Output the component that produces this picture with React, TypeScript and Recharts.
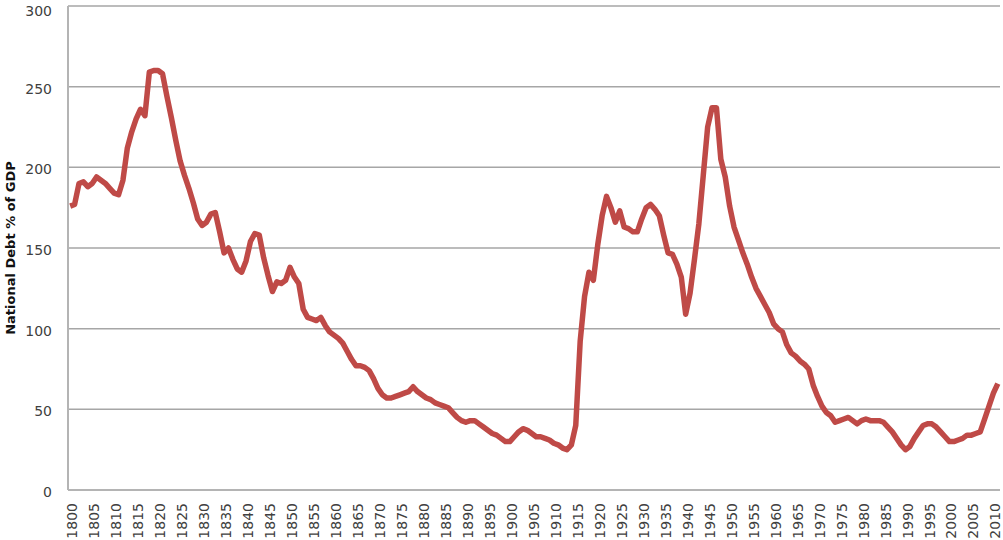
import React from "react"
import { LineChart, Line, XAxis, YAxis, CartesianGrid } from "recharts"

// Years 1800..2011, one value per year (national debt as % of GDP)
const START_YEAR = 1800
const debt = [
  // 1800-1809
  176, 177, 190, 191, 188, 190, 194, 192, 190, 187,
  // 1810-1819
  184, 183, 192, 212, 222, 230, 236, 232, 259, 260,
  // 1820-1829
  260, 258, 244, 231, 217, 204, 195, 187, 178, 168,
  // 1830-1839
  164, 166, 171, 172, 160, 147, 150, 143, 137, 135,
  // 1840-1849
  142, 154, 159, 158, 144, 133, 123, 129, 128, 130,
  // 1850-1859
  138, 132, 128, 112, 107, 106, 105, 107, 102, 98,
  // 1860-1869
  96, 94, 91, 86, 81, 77, 77, 76, 74, 69,
  // 1870-1879
  63, 59, 57, 57, 58, 59, 60, 61, 64, 61,
  // 1880-1889
  59, 57, 56, 54, 53, 52, 51, 48, 45, 43,
  // 1890-1899
  42, 43, 43, 41, 39, 37, 35, 34, 32, 30,
  // 1900-1909
  30, 33, 36, 38, 37, 35, 33, 33, 32, 31,
  // 1910-1919
  29, 28, 26, 25, 28, 40, 92, 120, 135, 130,
  // 1920-1929
  152, 170, 182, 175, 166, 173, 163, 162, 160, 160,
  // 1930-1939
  168, 175, 177, 174, 170, 158, 147, 146, 140, 132,
  // 1940-1949
  109, 122, 143, 165, 195, 225, 237, 237, 205, 194,
  // 1950-1959
  176, 163, 155, 147, 140, 132, 125, 120, 115, 110,
  // 1960-1969
  103, 100, 98, 90, 85, 83, 80, 78, 75, 65,
  // 1970-1979
  58, 52, 48, 46, 42, 43, 44, 45, 43, 41,
  // 1980-1989
  43, 44, 43, 43, 43, 42, 39, 36, 32, 28,
  // 1990-1999
  25, 27, 32, 36, 40, 41, 41, 39, 36, 33,
  // 2000-2009
  30, 30, 31, 32, 34, 34, 35, 36, 44, 52,
  // 2010-2011
  60, 66,
]
const yTicks = [0, 50, 100, 150, 200, 250, 300]

const data = debt.map((value, i) => ({ year: String(START_YEAR + i), value }))

const FONT = "'DejaVu Sans', Verdana, sans-serif"

function YTick({ x, y, payload }: any) {
  return (
    <text x={x} y={y} dy={7} textAnchor="end" fontFamily={FONT} fontSize={14} fill="#404040">
      {payload.value}
    </text>
  )
}

function XTick({ x, y, payload }: any) {
  return (
    <text
      transform={`translate(${x + 2},${y + 13}) rotate(-90)`}
      textAnchor="end"
      dy="0.36em"
      fontFamily={FONT}
      fontSize={14}
      fill="#404040"
    >
      {payload.value}
    </text>
  )
}

export default function App() {
  return (
    <div style={{ position: "absolute", left: 0, top: 0, width: 1003, height: 540, background: "#fff" }}>
      <LineChart width={1003} height={540} data={data} margin={{ top: 6, right: 3, bottom: 0, left: 0 }}>
        <CartesianGrid horizontal vertical={false} stroke="#a6a6a6" strokeWidth={1.5} />
        <XAxis
          dataKey="year"
          scale="band"
          interval={4}
          height={50}
          tickSize={0}
          tickMargin={0}
          tick={<XTick />}
          stroke="#b4b4b4"
          strokeWidth={2}
        />
        <YAxis
          domain={[0, 300]}
          ticks={yTicks}
          width={68}
          tickSize={0}
          tickMargin={16}
          tick={<YTick />}
          stroke="#b4b4b4"
          strokeWidth={2}
          label={{
            value: "National Debt % of GDP",
            angle: -90,
            position: "insideLeft",
            offset: 10,
            textAnchor: "middle",
            style: { fontFamily: FONT, fontSize: 13, fontWeight: "bold", fill: "#111" },
          }}
        />
        <Line
          type="linear"
          dataKey="value"
          stroke="#bf4a47"
          strokeWidth={5.5}
          strokeLinejoin="round"
          dot={false}
          isAnimationActive={false}
        />
      </LineChart>
    </div>
  )
}
